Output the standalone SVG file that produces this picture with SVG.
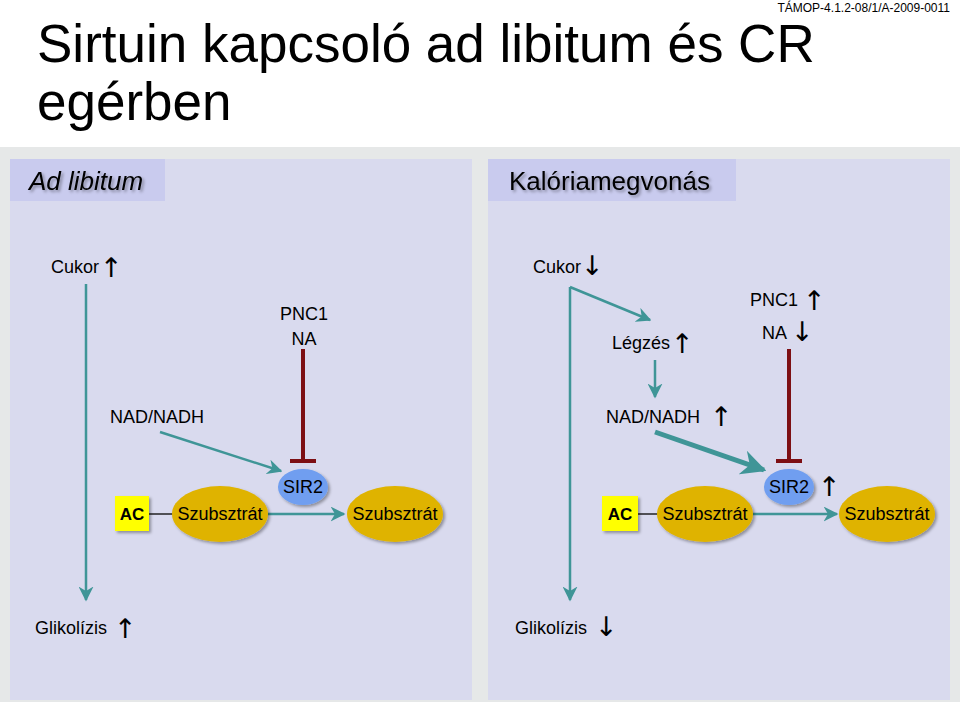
<svg xmlns="http://www.w3.org/2000/svg" width="960" height="702" viewBox="0 0 960 702">
<style>
text{font-family:"Liberation Sans",Arial,sans-serif;fill:#000}
.t{font-size:18px}
.arr{font-size:27px;font-family:"DejaVu Sans",sans-serif}
.teal{stroke:#3f9597;fill:none;stroke-width:2.5}
.red{stroke:#7d0f14;fill:none;stroke-width:4}
.sir{fill:#6f9ef0}
.sub{fill:#dfb303}
.ac{fill:#ffff00}
</style>
<defs>
<marker id="ah" viewBox="0 0 10 10" refX="9" refY="5" markerWidth="6" markerHeight="6" markerUnits="strokeWidth" orient="auto"><path d="M0,0 L10,5 L0,10 L3,5 z" fill="#3f9597"/></marker>
<marker id="ahb" viewBox="0 0 10 10" refX="9" refY="5" markerWidth="5" markerHeight="5" markerUnits="strokeWidth" orient="auto"><path d="M0,0 L10,5 L0,10 L3,5 z" fill="#3f9597"/></marker>
<filter id="sh" x="-20%" y="-20%" width="150%" height="150%"><feDropShadow dx="2" dy="2" stdDeviation="1.5" flood-color="#000" flood-opacity="0.35"/></filter>
</defs>
<rect width="960" height="702" fill="#ffffff"/>
<text x="37" y="62" style="font-size:53px">Sirtuin kapcsoló ad libitum és CR</text>
<text x="37" y="120" style="font-size:53px">egérben</text>
<text x="950" y="11.5" text-anchor="end" style="font-size:12px">TÁMOP-4.1.2-08/1/A-2009-0011</text>
<rect x="0" y="147" width="960" height="555" fill="#e6e8e8"/>
<rect x="10" y="159" width="462" height="541" fill="#d9daee"/>
<rect x="488" y="159" width="462" height="541" fill="#d9daee"/>
<rect x="10" y="159" width="155" height="42" fill="#c9cbee"/>
<rect x="488" y="159" width="248" height="42" fill="#c9cbee"/>
<text x="29" y="190" style="font-size:26px;font-style:italic;" filter="url(#sh)">Ad libitum</text>
<text x="509" y="190" style="font-size:26px" filter="url(#sh)">Kalóriamegvonás</text>

<g id="connectors">
<line class="teal" x1="86" y1="284" x2="86" y2="600" marker-end="url(#ah)"/>
<line class="red" x1="303" y1="349" x2="303" y2="461"/>
<line class="red" x1="290" y1="461" x2="316" y2="461"/>
<line class="teal" x1="160" y1="432" x2="281" y2="471" marker-end="url(#ah)"/>
<line stroke="#222" stroke-width="1.5" x1="149" y1="514" x2="173" y2="514"/>
<line class="teal" x1="268" y1="514" x2="344" y2="514" marker-end="url(#ah)"/>

<polyline class="teal" points="570,287 650,320" marker-end="url(#ah)"/>
<line class="teal" x1="570" y1="287" x2="570" y2="600" marker-end="url(#ah)"/>
<line class="teal" x1="655" y1="360" x2="655" y2="397" marker-end="url(#ah)"/>
<line class="red" x1="789" y1="349" x2="789" y2="461"/>
<line class="red" x1="776" y1="461" x2="802" y2="461"/>
<line class="teal" style="stroke-width:5" x1="655" y1="432" x2="764" y2="470" marker-end="url(#ahb)"/>
<line stroke="#222" stroke-width="1.5" x1="638" y1="514" x2="658" y2="514"/>
<line class="teal" x1="753" y1="514" x2="837" y2="514" marker-end="url(#ah)"/>
</g>

<g id="cukor-l"><text class="t" x="51" y="273">Cukor</text><text class="arr" x="100" y="277">↑</text></g>
<g id="pnc-l"><text class="t" x="304" y="320" text-anchor="middle">PNC1</text><text class="t" x="304" y="345" text-anchor="middle">NA</text></g>
<g id="nad-l"><text class="t" x="110" y="423">NAD/NADH</text></g>
<g id="sir2-l"><ellipse class="sir" cx="303" cy="487" rx="25" ry="18" filter="url(#sh)"/><text class="t" x="303" y="493" text-anchor="middle">SIR2</text></g>
<g id="ac-l"><rect class="ac" x="115" y="496" width="34" height="35" filter="url(#sh)"/><text x="132" y="520" text-anchor="middle" style="font-size:17px;font-weight:bold">AC</text></g>
<g id="sub1-l"><ellipse class="sub" cx="220" cy="514" rx="48" ry="28" filter="url(#sh)"/><text class="t" x="220" y="520" text-anchor="middle">Szubsztrát</text></g>
<g id="sub2-l"><ellipse class="sub" cx="395" cy="514" rx="48" ry="28" filter="url(#sh)"/><text class="t" x="395" y="520" text-anchor="middle">Szubsztrát</text></g>
<g id="gli-l"><text class="t" x="35" y="634">Glikolízis</text><text class="arr" x="114" y="638">↑</text></g>

<g id="cukor-r"><text class="t" x="533" y="273">Cukor</text><text class="arr" x="581" y="275">↓</text></g>
<g id="legzes"><text class="t" x="612" y="349">Légzés</text><text class="arr" x="671" y="353">↑</text></g>
<g id="pnc-r"><text class="t" x="750" y="306">PNC1</text><text class="arr" x="803" y="310">↑</text><text class="t" x="762" y="339">NA</text><text class="arr" x="791" y="341">↓</text></g>
<g id="nad-r"><text class="t" x="606" y="423">NAD/NADH</text><text class="arr" x="710" y="426">↑</text></g>
<g id="sir2-r"><ellipse class="sir" cx="789" cy="487" rx="25" ry="18" filter="url(#sh)"/><text class="t" x="789" y="493" text-anchor="middle">SIR2</text><text class="arr" x="818" y="496">↑</text></g>
<g id="ac-r"><rect class="ac" x="602" y="496" width="36" height="35" filter="url(#sh)"/><text x="620" y="520" text-anchor="middle" style="font-size:17px;font-weight:bold">AC</text></g>
<g id="sub1-r"><ellipse class="sub" cx="705" cy="514" rx="48" ry="28" filter="url(#sh)"/><text class="t" x="705" y="520" text-anchor="middle">Szubsztrát</text></g>
<g id="sub2-r"><ellipse class="sub" cx="887" cy="514" rx="48" ry="28" filter="url(#sh)"/><text class="t" x="887" y="520" text-anchor="middle">Szubsztrát</text></g>
<g id="gli-r"><text class="t" x="515" y="634">Glikolízis</text><text class="arr" x="595" y="636">↓</text></g>
</svg>
